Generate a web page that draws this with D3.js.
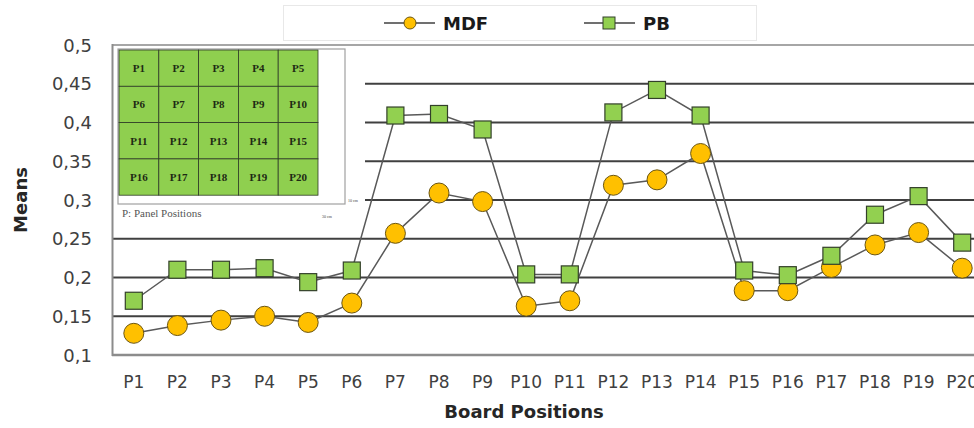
<!DOCTYPE html>
<html><head><meta charset="utf-8">
<script src="https://cdn.jsdelivr.net/npm/d3@7/dist/d3.min.js"></script>
<style>body{margin:0;background:#fff;overflow:hidden}svg{display:block}</style>
</head><body><svg id="c" width="974" height="428"></svg>
<script>
const categories = ["P1","P2","P3","P4","P5","P6","P7","P8","P9","P10","P11","P12","P13","P14","P15","P16","P17","P18","P19","P20"];
const mdf = [0.128,0.138,0.145,0.150,0.142,0.167,0.257,0.309,0.298,0.163,0.170,0.319,0.326,0.360,0.183,0.183,0.213,0.242,0.258,0.212];
const pb  = [0.170,0.210,0.210,0.212,0.194,0.209,0.409,0.411,0.391,0.204,0.204,0.413,0.442,0.409,0.209,0.203,0.228,0.281,0.305,0.245];
const yTicks = [0.1,0.15,0.2,0.25,0.3,0.35,0.4,0.45,0.5];
const yTickLabels = ["0,1","0,15","0,2","0,25","0,3","0,35","0,4","0,45","0,5"];
const panelRows = [["P1","P2","P3","P4","P5"],["P6","P7","P8","P9","P10"],["P11","P12","P13","P14","P15"],["P16","P17","P18","P19","P20"]];

const svg = d3.select("#c");
const x = d3.scaleBand().domain(categories).range([112, 984]);
const cx = d => x(d) + x.bandwidth()/2;
const y = d3.scaleLinear().domain([0.1, 0.5]).range([355, 45]);
const font = "'DejaVu Sans', sans-serif";

// gridlines
svg.append("g").selectAll("line").data(yTicks.filter(t => t > 0.1)).join("line")
  .attr("x1", 112).attr("x2", 974)
  .attr("y1", d => y(d)).attr("y2", d => y(d))
  .attr("stroke", d => d === 0.5 ? "#a6a6a6" : "#404040")
  .attr("stroke-width", d => d === 0.5 ? 2 : 1.8);

// inset image
const inset = svg.append("g");
inset.append("rect").attr("x", 113).attr("y", 46.5).attr("width", 252).attr("height", 178).attr("fill", "#fff");
inset.append("rect").attr("x", 118).attr("y", 49).attr("width", 227).attr("height", 155)
  .attr("fill", "none").attr("stroke", "#a0a0a0").attr("stroke-width", 1.2);
const gx0 = 119, gy0 = 50, cw = 39.8, ch = 36.3;
panelRows.forEach((row, ri) => row.forEach((lab, ci) => {
  inset.append("rect").attr("x", gx0 + ci*cw).attr("y", gy0 + ri*ch).attr("width", cw).attr("height", ch)
    .attr("fill", "#8fcf4f").attr("stroke", "#2e3b26").attr("stroke-width", 0.8);
  inset.append("text").attr("x", gx0 + ci*cw + cw/2).attr("y", gy0 + ri*ch + ch/2 + 4)
    .attr("text-anchor", "middle").attr("font-family", "'Liberation Serif', serif")
    .attr("font-weight", "bold").attr("font-size", 11).attr("fill", "#1e2a14").text(lab);
}));
inset.append("text").attr("x", 122).attr("y", 217).attr("font-family", "'Liberation Serif', serif")
  .attr("font-size", 11).attr("fill", "#555").text("P: Panel Positions");
inset.append("text").attr("x", 348).attr("y", 202).attr("font-family", "'Liberation Serif', serif")
  .attr("font-size", 4).attr("fill", "#444").text("10 cm");
inset.append("text").attr("x", 322).attr("y", 218).attr("font-family", "'Liberation Serif', serif")
  .attr("font-size", 4).attr("fill", "#444").text("30 cm");

// axes lines
svg.append("line").attr("x1", 112.5).attr("x2", 112.5).attr("y1", 44).attr("y2", 356)
  .attr("stroke", "#8c8c8c").attr("stroke-width", 2);
svg.append("line").attr("x1", 112).attr("x2", 974).attr("y1", 355).attr("y2", 355)
  .attr("stroke", "#8c8c8c").attr("stroke-width", 2.5);

// y tick labels
svg.append("g").selectAll("text").data(yTicks).join("text")
  .attr("x", 92).attr("y", d => y(d) + 6.5).attr("text-anchor", "end")
  .attr("font-family", font).attr("font-size", 18).attr("fill", "#404040")
  .text((d, i) => yTickLabels[i]);

// x tick labels
svg.append("g").selectAll("text").data(categories).join("text")
  .attr("x", d => cx(d)).attr("y", 388).attr("text-anchor", "middle")
  .attr("font-family", font).attr("font-size", 17).attr("fill", "#404040").text(d => d);

// axis titles
svg.append("text").attr("transform", "translate(27,200) rotate(-90)").attr("text-anchor", "middle")
  .attr("font-family", font).attr("font-weight", "bold").attr("font-size", 18).attr("fill", "#262626").text("Means");
svg.append("text").attr("x", 524).attr("y", 418).attr("text-anchor", "middle")
  .attr("font-family", font).attr("font-weight", "bold").attr("font-size", 18).attr("fill", "#262626").text("Board Positions");

// series lines
const line = d3.line().x((d, i) => cx(categories[i])).y(d => y(d));
svg.append("path").datum(mdf).attr("d", line).attr("fill", "none").attr("stroke", "#595959").attr("stroke-width", 1.5);
svg.append("path").datum(pb).attr("d", line).attr("fill", "none").attr("stroke", "#595959").attr("stroke-width", 1.5);

svg.append("g").selectAll("circle").data(mdf).join("circle")
  .attr("cx", (d, i) => cx(categories[i])).attr("cy", d => y(d)).attr("r", 10)
  .attr("fill", "#ffc000").attr("stroke", "#6b5510").attr("stroke-width", 1);
const s = 17;
svg.append("g").selectAll("rect").data(pb).join("rect")
  .attr("x", (d, i) => cx(categories[i]) - s/2).attr("y", d => y(d) - s/2).attr("width", s).attr("height", s)
  .attr("fill", "#92d050").attr("stroke", "#33402a").attr("stroke-width", 1.2);

// legend
const lg = svg.append("g");
lg.append("rect").attr("x", 283.5).attr("y", 5.5).attr("width", 473).attr("height", 35)
  .attr("fill", "#fff").attr("stroke", "#e8e8e8");
lg.append("line").attr("x1", 384).attr("x2", 435).attr("y1", 23).attr("y2", 23).attr("stroke", "#404040").attr("stroke-width", 1.5);
lg.append("circle").attr("cx", 410).attr("cy", 23).attr("r", 6).attr("fill", "#ffc000").attr("stroke", "#6b5510");
lg.append("text").attr("x", 443).attr("y", 30).attr("font-family", font).attr("font-weight", "bold")
  .attr("font-size", 18).attr("fill", "#1a1a1a").text("MDF");
lg.append("line").attr("x1", 584).attr("x2", 635).attr("y1", 23).attr("y2", 23).attr("stroke", "#404040").attr("stroke-width", 1.5);
lg.append("rect").attr("x", 603).attr("y", 17).attr("width", 12).attr("height", 12).attr("fill", "#92d050").attr("stroke", "#33402a");
lg.append("text").attr("x", 643).attr("y", 30).attr("font-family", font).attr("font-weight", "bold")
  .attr("font-size", 18).attr("fill", "#1a1a1a").text("PB");
</script></body></html>
